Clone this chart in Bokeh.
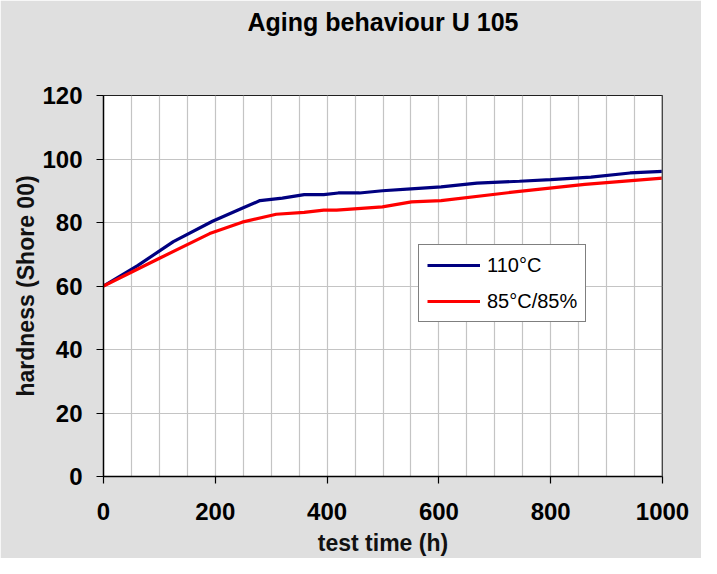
from bokeh.plotting import figure
from bokeh.models import Range1d, FixedTicker, Legend, LegendItem, Span, LinearAxis
from bokeh.embed import file_html
from bokeh.resources import INLINE

# --- data ---
hours_110 = [0, 61, 125, 195, 248, 280, 320, 359, 394, 420, 458, 499, 550, 604, 668, 744, 800, 872, 942, 1000]
hard_110 = [60, 66.4, 74.0, 80.4, 84.5, 86.9, 87.7, 88.8, 88.8, 89.3, 89.3, 90.0, 90.6, 91.2, 92.4, 93.0, 93.5, 94.3, 95.6, 96.1]

hours_85 = [0, 102, 190, 248, 309, 359, 394, 417, 499, 551, 604, 744, 861, 1000]
hard_85 = [60, 68.9, 76.5, 80.1, 82.6, 83.2, 83.9, 83.9, 84.9, 86.5, 86.9, 89.8, 92.0, 94.0]

x_ticks = [0, 200, 400, 600, 800, 1000]
y_ticks = [0, 20, 40, 60, 80, 100, 120]
x_grid = list(range(0, 1001, 50))

title_text = "Aging behaviour U 105"
series_names = ["110°C", "85°C/85%"]
FONT = "Liberation Sans"
BG = "#dfdfdf"

p = figure(width=701, height=558, output_backend="svg", toolbar_location=None,
           x_range=Range1d(0, 1000), y_range=Range1d(0, 120),
           min_border_left=103, min_border_right=39, min_border_top=95, min_border_bottom=81)
p.border_fill_color = BG
p.background_fill_color = "white"
p.outline_line_color = "#202020"
p.outline_line_width = 1

# grid
p.xgrid.ticker = FixedTicker(ticks=x_grid)
p.ygrid.ticker = FixedTicker(ticks=y_ticks)
for g in (p.xgrid, p.ygrid):
    g.grid_line_color = "#c4c4c4"
    g.grid_line_width = 1.2

# axes
p.xaxis.ticker = FixedTicker(ticks=x_ticks)
p.yaxis.ticker = FixedTicker(ticks=y_ticks)
for ax in (p.xaxis, p.yaxis):
    ax.axis_line_color = "black"
    ax.axis_line_width = 1.5
    ax.major_tick_line_color = "black"
    ax.major_tick_line_width = 1.2
    ax.major_tick_out = 7
    ax.major_tick_in = 0
    ax.minor_tick_line_color = None
    ax.major_label_text_font = FONT
    ax.major_label_text_font_size = "24px"
    ax.major_label_text_font_style = "bold"
    ax.major_label_text_color = "black"
    ax.axis_label_text_font = FONT
    ax.axis_label_text_font_size = "23px"
    ax.axis_label_text_font_style = "bold"
    ax.axis_label_text_color = "#111111"

p.xaxis.axis_label = "test time (h)"
p.yaxis.axis_label = "hardness (Shore 00)"
p.xaxis.major_label_standoff = 19
p.xaxis.axis_label_standoff = 7
p.yaxis.major_label_standoff = 14
p.yaxis.axis_label_standoff = 0

# chart title: label of a bare axis above the frame
title_axis = LinearAxis(ticker=FixedTicker(ticks=[]), axis_line_color=None,
                        major_tick_line_color=None, minor_tick_line_color=None,
                        major_tick_out=0, major_tick_in=0, minor_tick_out=0,
                        major_label_standoff=0,
                        axis_label=title_text, axis_label_standoff=60,
                        axis_label_text_font=FONT, axis_label_text_font_size="25px",
                        axis_label_text_font_style="bold", axis_label_text_color="black")
p.add_layout(title_axis, "above")

# right border drawn slightly grey/heavier like the reference
p.add_layout(Span(location=1000, dimension="height", line_color="#6e6e6e", line_width=2))

r1 = p.line(hours_110, hard_110, line_color="#000080", line_width=3.2)
r2 = p.line(hours_85, hard_85, line_color="#ff0000", line_width=3.2)

legend = Legend(items=[LegendItem(label=series_names[0], renderers=[r1]),
                       LegendItem(label=series_names[1], renderers=[r2])],
                location=(315, 154))
legend.label_text_font = FONT
legend.label_text_font_size = "20px"
legend.label_text_color = "black"
legend.glyph_width = 53
legend.glyph_height = 24
legend.label_height = 24
legend.label_standoff = 7
legend.spacing = 12
legend.padding = 8
legend.margin = 0
legend.border_line_color = "black"
legend.border_line_width = 1
legend.background_fill_color = "white"
legend.background_fill_alpha = 1
p.add_layout(legend, "center")

open("out.html", "w").write(file_html(p, INLINE))
